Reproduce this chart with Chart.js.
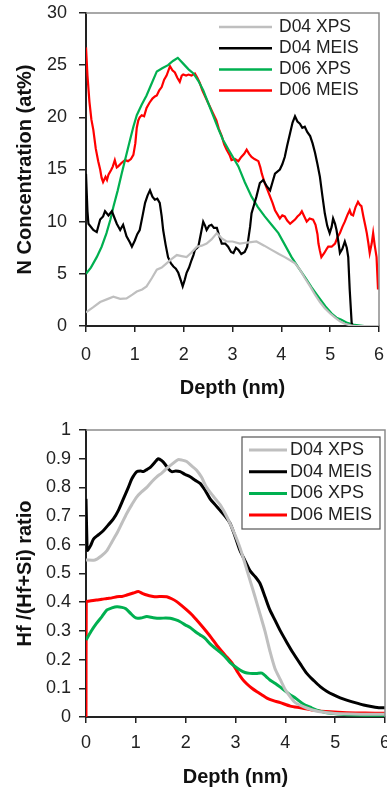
<!DOCTYPE html>
<html>
<head>
<meta charset="utf-8">
<title>N concentration and Hf ratio vs depth</title>
<script src="https://cdn.jsdelivr.net/npm/chart.js@4.4.1/dist/chart.umd.min.js"></script>
<style>
  body { margin: 0; background: #fff; overflow: hidden; width: 387px; height: 789px; position: relative; }
  canvas { position: absolute; left: 0; }
  #nChart { top: 0; }
  #ratioChart { top: 400px; }
</style>
</head>
<body>
<canvas id="nChart" width="387" height="400"></canvas>
<canvas id="ratioChart" width="400" height="389"></canvas>
<script>
// tick labels
const depthTicks = [0, 1, 2, 3, 4, 5, 6];
const nTicks = [0, 5, 10, 15, 20, 25, 30];
const ratioTicks = [0, 0.1, 0.2, 0.3, 0.4, 0.5, 0.6, 0.7, 0.8, 0.9, 1];
const seriesNames = ['D04 XPS', 'D04 MEIS', 'D06 XPS', 'D06 MEIS'];

// --- top chart: N concentration (at%) vs depth (nm) ---
const nD04XpsDepth = [0, 0.15, 0.29, 0.45, 0.56, 0.7, 0.83, 0.95, 1.04, 1.15, 1.24, 1.35, 1.45, 1.55, 1.65, 1.75, 1.86, 1.96, 2.06, 2.15, 2.27, 2.37, 2.47, 2.57, 2.68, 2.78, 2.88, 3.0, 3.15, 3.3, 3.49, 3.65, 3.8, 3.95, 4.07, 4.18, 4.28, 4.38, 4.48, 4.59, 4.69, 4.79, 4.89, 5.0, 5.1, 5.2, 5.3, 5.4, 5.5, 6];
const nD04Xps = [1.3, 1.8, 2.3, 2.6, 2.8, 2.6, 2.65, 3.0, 3.3, 3.5, 3.8, 4.6, 5.4, 5.6, 6.0, 6.4, 6.8, 6.7, 6.6, 7.0, 7.6, 7.7, 7.9, 8.3, 8.9, 8.4, 8.1, 8.1, 7.9, 8.0, 8.1, 7.7, 7.3, 6.9, 6.6, 6.3, 6.0, 5.4, 4.6, 3.8, 3.0, 2.3, 1.7, 1.2, 0.8, 0.45, 0.22, 0.08, 0, 0];

const nD04MeisDepth = [0, 0.03, 0.05, 0.15, 0.22, 0.29, 0.35, 0.39, 0.46, 0.53, 0.58, 0.63, 0.7, 0.76, 0.83, 0.9, 0.94, 1.0, 1.05, 1.1, 1.16, 1.21, 1.26, 1.31, 1.36, 1.41, 1.46, 1.51, 1.55, 1.58, 1.63, 1.68, 1.74, 1.79, 1.84, 1.89, 1.94, 1.98, 2.02, 2.06, 2.11, 2.16, 2.2, 2.23, 2.3, 2.35, 2.4, 2.44, 2.47, 2.52, 2.57, 2.62, 2.68, 2.73, 2.78, 2.85, 2.91, 2.97, 3.02, 3.07, 3.12, 3.18, 3.25, 3.3, 3.32, 3.36, 3.39, 3.44, 3.49, 3.56, 3.63, 3.7, 3.77, 3.82, 3.87, 3.97, 4.02, 4.07, 4.12, 4.18, 4.23, 4.28, 4.33, 4.38, 4.43, 4.48, 4.53, 4.59, 4.64, 4.69, 4.74, 4.79, 4.84, 4.89, 4.94, 4.99, 5.03, 5.06, 5.1, 5.13, 5.17, 5.2, 5.25, 5.3, 5.34, 5.37, 5.4, 5.44, 5.46];
const nD04Meis = [14.6, 11.0, 9.8, 9.2, 9.0, 10.2, 10.5, 11.0, 10.6, 11.0, 10.4, 9.8, 9.2, 9.7, 8.6, 8.0, 7.6, 8.2, 8.8, 9.2, 10.6, 11.8, 12.5, 13.0, 12.4, 12.1, 12.2, 11.8, 10.5, 9.2, 7.8, 6.6, 6.0, 5.7, 5.5, 5.1, 4.4, 3.8, 4.4, 5.1, 5.6, 6.3, 6.8, 7.3, 7.6, 8.8, 10.0, 9.6, 9.2, 9.6, 9.7, 9.4, 9.4, 8.6, 7.9, 7.9, 7.6, 7.1, 7.0, 7.5, 7.3, 6.9, 7.1, 7.6, 8.2, 9.5, 10.8, 11.6, 12.4, 13.7, 14.0, 13.4, 13.0, 13.8, 14.6, 15.0, 15.5, 16.2, 17.3, 18.5, 19.5, 20.1, 19.6, 19.4, 19.0, 19.1, 18.6, 18.2, 17.5, 16.6, 15.5, 14.3, 12.5, 10.8, 9.6, 8.9, 9.5, 10.3, 9.8, 9.2, 8.0, 7.0, 7.4, 8.1, 7.5, 6.6, 3.5, 0.3, 0];

const nD06XpsDepth = [0, 0.1, 0.22, 0.32, 0.42, 0.5, 0.56, 0.65, 0.73, 0.82, 0.9, 0.97, 1.04, 1.14, 1.24, 1.34, 1.45, 1.56, 1.68, 1.78, 1.88, 2.0, 2.1, 2.2, 2.3, 2.4, 2.5, 2.61, 2.71, 2.81, 2.92, 3.02, 3.12, 3.25, 3.39, 3.52, 3.66, 3.8, 3.94, 4.07, 4.21, 4.35, 4.48, 4.62, 4.76, 4.9, 5.03, 5.13, 5.23, 5.35, 5.5, 5.7, 6];
const nD06Xps = [5.0, 5.6, 6.6, 7.6, 8.9, 10.2, 11.4, 13.0, 14.6, 16.3, 17.8, 19.1, 20.2, 21.2, 22.1, 23.2, 24.4, 24.7, 25.0, 25.4, 25.7, 25.1, 24.6, 24.2, 23.5, 22.6, 21.4, 20.1, 18.9, 17.8, 16.9, 16.1, 15.3, 13.8, 12.4, 11.4, 10.5, 9.7, 8.9, 7.8, 6.6, 5.6, 4.7, 3.7, 2.8, 1.9, 1.2, 0.8, 0.6, 0.3, 0.1, 0, 0];

const nD06MeisDepth = [0, 0.03, 0.07, 0.11, 0.15, 0.2, 0.25, 0.29, 0.32, 0.35, 0.4, 0.43, 0.46, 0.52, 0.55, 0.59, 0.63, 0.66, 0.72, 0.8, 0.86, 0.92, 0.97, 1.01, 1.04, 1.07, 1.1, 1.14, 1.19, 1.24, 1.3, 1.36, 1.41, 1.45, 1.5, 1.55, 1.6, 1.65, 1.72, 1.77, 1.82, 1.87, 1.92, 1.96, 1.99, 2.05, 2.1, 2.16, 2.23, 2.28, 2.33, 2.38, 2.44, 2.49, 2.54, 2.6, 2.67, 2.72, 2.78, 2.83, 2.88, 2.94, 2.98, 3.05, 3.12, 3.18, 3.24, 3.29, 3.34, 3.39, 3.45, 3.53, 3.57, 3.6, 3.66, 3.72, 3.77, 3.82, 3.87, 3.92, 3.97, 4.02, 4.07, 4.12, 4.18, 4.23, 4.28, 4.33, 4.38, 4.42, 4.47, 4.52, 4.58, 4.65, 4.7, 4.74, 4.76, 4.79, 4.82, 4.88, 4.93, 4.96, 5.03, 5.1, 5.15, 5.2, 5.25, 5.3, 5.35, 5.4, 5.43, 5.47, 5.52, 5.57, 5.61, 5.64, 5.68, 5.72, 5.75, 5.78, 5.81, 5.85, 5.88, 5.91, 5.95, 5.98];
const nD06Meis = [26.7, 24.0, 21.5, 19.8, 18.8, 17.0, 15.8, 15.0, 14.2, 13.8, 14.3, 14.0, 14.5, 15.0, 15.3, 15.9, 15.2, 15.3, 15.6, 15.9, 15.8, 16.0, 16.4, 17.5, 19.0, 19.7, 20.0, 20.2, 20.1, 20.9, 21.4, 21.8, 22.0, 22.1, 22.6, 22.9, 23.6, 24.0, 24.9, 24.5, 24.3, 23.8, 23.4, 24.0, 24.1, 24.0, 24.1, 24.0, 24.2, 23.8, 23.3, 22.6, 22.0, 21.5, 21.0, 20.4, 19.7, 18.9, 18.2, 17.4, 16.9, 16.4, 15.9, 16.0, 15.8, 16.2, 16.5, 16.9, 16.5, 16.2, 16.0, 15.8, 15.2, 14.6, 13.7, 13.0, 12.4, 11.8, 11.1, 10.7, 10.3, 10.6, 10.5, 10.1, 9.8, 10.0, 10.2, 10.5, 10.7, 11.0, 10.5, 10.0, 10.3, 10.2, 9.7, 8.8, 7.9, 7.2, 6.6, 7.0, 7.4, 7.6, 7.6, 7.9, 8.5, 8.9, 9.5, 10.0, 10.6, 11.1, 10.7, 10.6, 11.4, 11.9, 11.6, 11.5, 10.5, 9.6, 8.9, 8.0, 7.0, 7.9, 8.9, 7.8, 6.6, 3.5];

// --- bottom chart: Hf/(Hf+Si) ratio vs depth (nm) ---
const rD04XpsDepth = [0, 0.18, 0.3, 0.42, 0.52, 0.62, 0.72, 0.82, 0.92, 1.02, 1.12, 1.22, 1.32, 1.42, 1.52, 1.62, 1.72, 1.85, 1.93, 2.02, 2.12, 2.22, 2.32, 2.42, 2.55, 2.69, 2.79, 2.89, 2.99, 3.09, 3.19, 3.29, 3.39, 3.49, 3.59, 3.69, 3.79, 3.9, 4.0, 4.1, 4.2, 4.36, 4.5, 4.7, 5.0, 5.5, 6];
const rD04Xps = [0.547, 0.547, 0.56, 0.58, 0.61, 0.64, 0.675, 0.71, 0.74, 0.767, 0.785, 0.8, 0.82, 0.837, 0.85, 0.866, 0.88, 0.897, 0.895, 0.89, 0.875, 0.86, 0.835, 0.8, 0.77, 0.74, 0.71, 0.675, 0.635, 0.59, 0.535, 0.477, 0.42, 0.36, 0.3, 0.23, 0.17, 0.13, 0.095, 0.07, 0.05, 0.036, 0.027, 0.018, 0.012, 0.01, 0.01];

const rD04MeisDepth = [0, 0.02, 0.03, 0.1, 0.15, 0.25, 0.35, 0.45, 0.55, 0.65, 0.75, 0.85, 0.92, 1.02, 1.1, 1.15, 1.22, 1.29, 1.37, 1.45, 1.52, 1.59, 1.65, 1.72, 1.8, 1.89, 1.99, 2.09, 2.19, 2.29, 2.39, 2.49, 2.59, 2.69, 2.79, 2.89, 2.99, 3.09, 3.19, 3.29, 3.39, 3.49, 3.59, 3.69, 3.8, 3.9, 4.03, 4.16, 4.3, 4.43, 4.57, 4.7, 4.83, 4.97, 5.1, 5.23, 5.4, 5.57, 5.75, 5.9, 6];
const rD04Meis = [0.76, 0.6, 0.58, 0.6, 0.62, 0.635, 0.65, 0.67, 0.69, 0.72, 0.76, 0.8, 0.83, 0.855, 0.857, 0.855, 0.862, 0.87, 0.885, 0.9, 0.893, 0.88, 0.865, 0.855, 0.857, 0.855, 0.845, 0.837, 0.825, 0.814, 0.79, 0.76, 0.74, 0.72, 0.7, 0.675, 0.63, 0.58, 0.545, 0.51, 0.49, 0.466, 0.42, 0.373, 0.335, 0.3, 0.26, 0.222, 0.185, 0.152, 0.127, 0.106, 0.09, 0.077, 0.067, 0.059, 0.05, 0.042, 0.036, 0.032, 0.032];

const rD06XpsDepth = [0, 0.1, 0.21, 0.32, 0.42, 0.52, 0.62, 0.72, 0.8, 0.9, 1.0, 1.1, 1.22, 1.35, 1.49, 1.6, 1.69, 1.79, 1.89, 1.99, 2.09, 2.19, 2.29, 2.39, 2.49, 2.59, 2.69, 2.79, 2.89, 2.99, 3.09, 3.19, 3.29, 3.42, 3.53, 3.62, 3.69, 3.8, 3.9, 4.0, 4.1, 4.2, 4.36, 4.5, 4.63, 4.8, 4.97, 5.23, 5.6, 6];
const rD06Xps = [0.268, 0.298, 0.326, 0.35, 0.373, 0.38, 0.384, 0.382, 0.377, 0.36, 0.345, 0.345, 0.35, 0.346, 0.344, 0.345, 0.344, 0.339, 0.332, 0.321, 0.312, 0.298, 0.286, 0.274, 0.255, 0.24, 0.226, 0.21, 0.19, 0.176, 0.164, 0.155, 0.152, 0.152, 0.153, 0.14, 0.129, 0.117, 0.104, 0.09, 0.077, 0.066, 0.045, 0.034, 0.024, 0.016, 0.012, 0.008, 0.006, 0.006];

const rD06MeisDepth = [0, 0.005, 0.1, 0.21, 0.32, 0.42, 0.52, 0.62, 0.72, 0.82, 0.95, 1.05, 1.14, 1.22, 1.32, 1.42, 1.52, 1.62, 1.72, 1.82, 1.92, 2.02, 2.12, 2.22, 2.32, 2.42, 2.52, 2.62, 2.72, 2.82, 2.92, 3.03, 3.13, 3.23, 3.33, 3.43, 3.53, 3.63, 3.76, 3.9, 4.1, 4.3, 4.56, 4.9, 5.23, 5.6, 6];
const rD06Meis = [0, 0.4, 0.405, 0.408, 0.41, 0.413, 0.415, 0.419, 0.42, 0.425, 0.432, 0.437, 0.43, 0.425, 0.421, 0.419, 0.42, 0.419, 0.412, 0.402, 0.388, 0.373, 0.357, 0.338, 0.318, 0.297, 0.275, 0.251, 0.23, 0.21, 0.19, 0.16, 0.134, 0.115, 0.1, 0.088, 0.077, 0.066, 0.057, 0.05, 0.038, 0.032, 0.024, 0.018, 0.015, 0.014, 0.013];

const seriesColors = ['#bfbfbf', '#000000', '#00b050', '#ff0000'];

function toPoints(xs, ys) {
  return xs.map((x, i) => ({ x: x, y: ys[i] }));
}

Chart.defaults.font.family = "'Liberation Sans', Arial, sans-serif";
Chart.defaults.color = '#222';

// grey frame on top and right of the plot area
const framePlugin = {
  id: 'frame',
  afterDatasetsDraw(chart) {
    const a = chart.chartArea;
    const ctx = chart.ctx;
    ctx.save();
    ctx.strokeStyle = '#8c8c8c';
    ctx.lineWidth = 1.5;
    ctx.beginPath();
    ctx.moveTo(a.left, a.top);
    ctx.lineTo(a.right, a.top);
    ctx.lineTo(a.right, a.bottom);
    ctx.stroke();
    ctx.restore();
  }
};

// legend with line samples, placed inside the plot
const lineLegendPlugin = {
  id: 'lineLegend',
  afterDraw(chart, args, opts) {
    const ctx = chart.ctx;
    ctx.save();
    if (opts.box) {
      ctx.strokeStyle = '#555';
      ctx.lineWidth = 1.2;
      ctx.strokeRect(opts.box[0], opts.box[1], opts.box[2], opts.box[3]);
    }
    chart.data.datasets.forEach((ds, i) => {
      const y = opts.top + i * opts.rowH;
      ctx.strokeStyle = ds.borderColor;
      ctx.lineWidth = opts.lineWidth;
      ctx.beginPath();
      ctx.moveTo(opts.left, y);
      ctx.lineTo(opts.left + opts.lineLen, y);
      ctx.stroke();
      ctx.fillStyle = '#222';
      ctx.font = opts.fontSize + "px 'Liberation Sans', Arial, sans-serif";
      ctx.textBaseline = 'middle';
      ctx.textAlign = 'left';
      ctx.fillText(ds.label, opts.left + opts.lineLen + opts.gap, y);
    });
    ctx.restore();
  }
};

function axisX(height, tickPad) {
  return {
    type: 'linear',
    min: 0,
    max: 6,
    afterBuildTicks: s => { s.ticks = depthTicks.map(v => ({ value: v })); },
    border: { color: '#222', width: 2 },
    grid: { drawOnChartArea: false, tickLength: 6, tickColor: '#222', lineWidth: 1.5 },
    ticks: { padding: tickPad, font: { size: 18 }, color: '#222', maxRotation: 0 },
    title: { display: true, text: 'Depth (nm)', font: { size: 20, weight: 'bold' }, color: '#111', padding: 0 },
    afterFit: s => { s.height = height; s.paddingLeft = 0; s.paddingRight = 0; }
  };
}

function axisY(min, max, ticks, title, tickPad) {
  return {
    min: min,
    max: max,
    afterBuildTicks: s => { s.ticks = ticks.map(v => ({ value: v })); },
    border: { color: '#222', width: 2 },
    grid: { drawOnChartArea: false, tickLength: 7, tickColor: '#222', lineWidth: 1.5 },
    ticks: { padding: tickPad, font: { size: 18 }, color: '#222', callback: v => String(v) },
    title: { display: true, text: title, font: { size: 20, weight: 'bold' }, color: '#111', padding: { top: 13, bottom: 0 } },
    afterFit: s => { s.width = 86; s.paddingTop = 0; s.paddingBottom = 0; }
  };
}

function makeDatasets(pairs, width, tension) {
  return pairs.map((p, i) => ({
    label: seriesNames[i],
    data: toPoints(p[0], p[1]),
    borderColor: seriesColors[i],
    backgroundColor: seriesColors[i],
    borderWidth: width,
    pointRadius: 0,
    fill: false,
    tension: tension
  }));
}

new Chart(document.getElementById('nChart'), {
  type: 'line',
  data: {
    datasets: makeDatasets([
      [nD04XpsDepth, nD04Xps],
      [nD04MeisDepth, nD04Meis],
      [nD06XpsDepth, nD06Xps],
      [nD06MeisDepth, nD06Meis]
    ], 2.2, 0)
  },
  options: {
    responsive: false,
    animation: false,
    layout: { padding: { top: 13, right: 8, left: 0, bottom: 0 } },
    scales: {
      x: axisX(74, 12),
      y: axisY(0, 30, nTicks, 'N Concentration (at%)', 12)
    },
    plugins: {
      legend: { display: false },
      tooltip: { enabled: false },
      lineLegend: { left: 219, top: 27, rowH: 21.2, lineLen: 53, gap: 7, lineWidth: 2.5, fontSize: 17.5 }
    }
  },
  plugins: [framePlugin, lineLegendPlugin]
});

new Chart(document.getElementById('ratioChart'), {
  type: 'line',
  data: {
    datasets: makeDatasets([
      [rD04XpsDepth, rD04Xps],
      [rD04MeisDepth, rD04Meis],
      [rD06XpsDepth, rD06Xps],
      [rD06MeisDepth, rD06Meis]
    ], 3, 0.25)
  },
  options: {
    responsive: false,
    animation: false,
    layout: { padding: { top: 30, right: 15, left: 0, bottom: 0 } },
    scales: {
      x: axisX(72, 9),
      y: axisY(0, 1, ratioTicks, 'Hf /(Hf+Si) ratio', 8)
    },
    plugins: {
      legend: { display: false },
      tooltip: { enabled: false },
      lineLegend: { box: [242, 37, 138, 92], left: 249, top: 50, rowH: 21.7, lineLen: 38, gap: 3, lineWidth: 3, fontSize: 18 }
    }
  },
  plugins: [framePlugin, lineLegendPlugin]
});
</script>
</body>
</html>
